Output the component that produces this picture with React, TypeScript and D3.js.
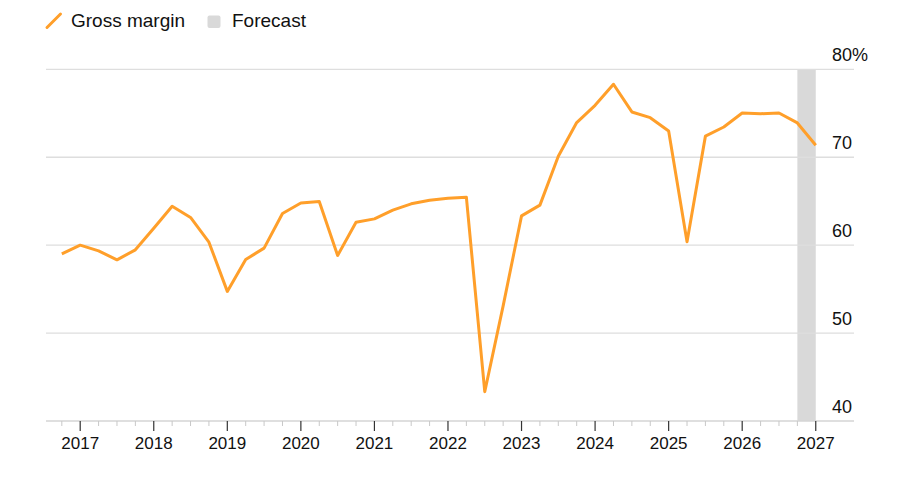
// Gross margin line chart with forecast band - D3.js

import { useEffect, useRef } from "react";
import * as d3 from "d3";

// Quarter start (year-month) of each reading
const quarters = [
  "2016-10",
  "2017-01", "2017-04", "2017-07", "2017-10",
  "2018-01", "2018-04", "2018-07", "2018-10",
  "2019-01", "2019-04", "2019-07", "2019-10",
  "2020-01", "2020-04", "2020-07", "2020-10",
  "2021-01", "2021-04", "2021-07", "2021-10",
  "2022-01", "2022-04", "2022-07", "2022-10",
  "2023-01", "2023-04", "2023-07", "2023-10",
  "2024-01", "2024-04", "2024-07", "2024-10",
  "2025-01", "2025-04", "2025-07", "2025-10",
  "2026-01", "2026-04", "2026-07", "2026-10",
  "2027-01",
];

// Gross margin, %
const grossMargin = [
  59.0,
  60.0, 59.35, 58.33, 59.47,
  61.93, 64.43, 63.15, 60.34,
  54.74, 58.37, 59.66, 63.6,
  64.8, 64.97, 58.83, 62.6,
  62.99, 63.98, 64.7, 65.11,
  65.34, 65.45, 43.33, 53.1,
  63.33, 64.55, 70.11, 73.94,
  75.9, 78.3, 75.15, 74.5,
  72.99, 60.38, 72.4, 73.44,
  75.03, 74.95, 75.03, 73.9,
  71.36,
];

const forecastRange = ["2026-10", "2027-01"];

const yearTicks = [2017, 2018, 2019, 2020, 2021, 2022, 2023, 2024, 2025, 2026, 2027];
const yTicks = [40, 50, 60, 70, 80];

const toYear = (s: string) => {
  const [y, m] = s.split("-").map(Number);
  return y + (m - 1) / 12;
};

const WIDTH = 900;
const HEIGHT = 484;
const ORANGE = "#ff9f2a";
const FONT = "'Liberation Sans', Arial, Helvetica, sans-serif";

export default function App() {
  const svgRef = useRef<SVGSVGElement>(null);

  useEffect(() => {
    if (!svgRef.current) return;
    const svg = d3.select(svgRef.current);
    svg.selectAll("*").remove();

    const x = d3.scaleLinear().domain([2016.535, 2027.52]).range([46, 854]);
    const y = d3.scaleLinear().domain([40, 80]).range([421, 69.3]);

    // Legend
    const legend = svg.append("g").style("font-family", FONT);
    legend
      .append("line")
      .attr("x1", 47)
      .attr("y1", 27.5)
      .attr("x2", 60.5)
      .attr("y2", 14)
      .attr("stroke", ORANGE)
      .attr("stroke-width", 3)
      .attr("stroke-linecap", "round");
    legend
      .append("text")
      .attr("x", 71)
      .attr("y", 26.5)
      .attr("fill", "#111")
      .style("font-size", "19px")
      .text("Gross margin");
    legend
      .append("rect")
      .attr("x", 207.5)
      .attr("y", 15.5)
      .attr("width", 13)
      .attr("height", 12.5)
      .attr("rx", 2)
      .attr("fill", "#d9d9d9");
    legend
      .append("text")
      .attr("x", 232)
      .attr("y", 26.5)
      .attr("fill", "#111")
      .style("font-size", "19px")
      .text("Forecast");

    // Forecast band
    const [f0, f1] = forecastRange.map(toYear);
    svg
      .append("rect")
      .attr("x", x(f0))
      .attr("y", y(80))
      .attr("width", x(f1) - x(f0))
      .attr("height", y(40) - y(80))
      .attr("fill", "#d9d9d9");

    // Gridlines
    svg
      .append("g")
      .selectAll("line")
      .data(yTicks.filter((t) => t > 40))
      .enter()
      .append("line")
      .attr("x1", 46)
      .attr("x2", 854)
      .attr("y1", (d) => y(d))
      .attr("y2", (d) => y(d))
      .attr("stroke", "#dedede")
      .attr("stroke-width", 1.3);

    // Y labels
    svg
      .append("g")
      .selectAll("text")
      .data(yTicks)
      .enter()
      .append("text")
      .attr("x", 832)
      .attr("y", (d) => y(d) - 8)
      .attr("fill", "#111")
      .style("font-family", FONT)
      .style("font-size", "18px")
      .text((d) => (d === 80 ? `${d}%` : `${d}`));

    // X axis
    const axisY = y(40);
    svg
      .append("line")
      .attr("x1", 46)
      .attr("x2", 854)
      .attr("y1", axisY)
      .attr("y2", axisY)
      .attr("stroke", "#d4d4d4")
      .attr("stroke-width", 1.5);

    const minorTicks = quarters.map(toYear).filter((q) => !yearTicks.includes(q));
    svg
      .append("g")
      .selectAll("line")
      .data(minorTicks)
      .enter()
      .append("line")
      .attr("x1", (d) => x(d))
      .attr("x2", (d) => x(d))
      .attr("y1", axisY)
      .attr("y2", axisY + 5)
      .attr("stroke", "#c8c8c8")
      .attr("stroke-width", 1);

    svg
      .append("g")
      .selectAll("line")
      .data(yearTicks)
      .enter()
      .append("line")
      .attr("x1", (d) => x(d))
      .attr("x2", (d) => x(d))
      .attr("y1", axisY)
      .attr("y2", axisY + 10)
      .attr("stroke", "#333")
      .attr("stroke-width", 1.2);

    svg
      .append("g")
      .selectAll("text")
      .data(yearTicks)
      .enter()
      .append("text")
      .attr("x", (d) => x(d))
      .attr("y", 449)
      .attr("text-anchor", "middle")
      .attr("fill", "#111")
      .style("font-family", FONT)
      .style("font-size", "17px")
      .text((d) => d);

    // Line
    const data = quarters.map((q, i) => ({ t: toYear(q), v: grossMargin[i] }));
    const line = d3
      .line<{ t: number; v: number }>()
      .x((d) => x(d.t))
      .y((d) => y(d.v));
    svg
      .append("path")
      .datum(data)
      .attr("d", line)
      .attr("fill", "none")
      .attr("stroke", ORANGE)
      .attr("stroke-width", 3)
      .attr("stroke-linejoin", "round");
  }, []);

  return (
    <svg
      ref={svgRef}
      width={WIDTH}
      height={HEIGHT}
      style={{ position: "absolute", left: 0, top: 0, background: "#fff" }}
    />
  );
}
